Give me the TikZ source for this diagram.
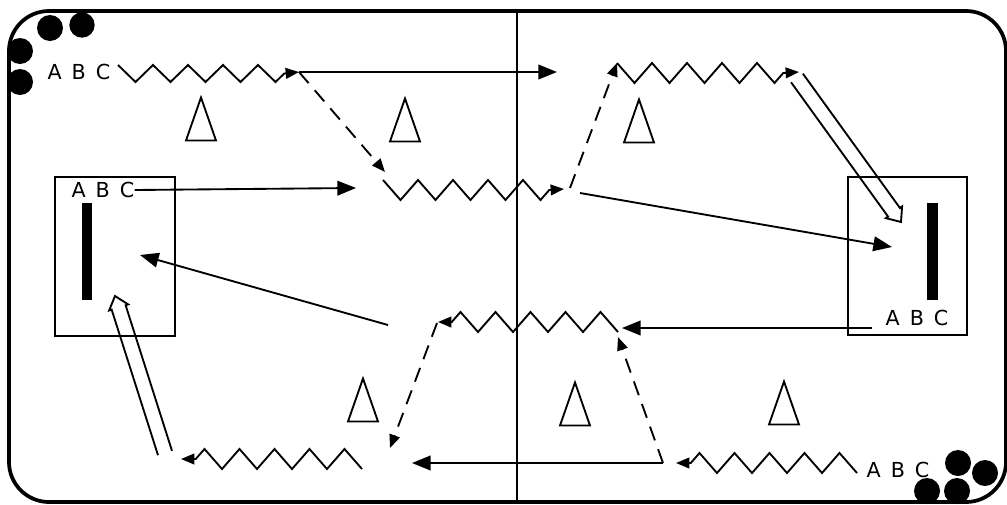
\documentclass[tikz,border=0pt]{standalone}
\usepackage{fontspec}
\newfontfamily\abcfont{DejaVu Sans}
\usetikzlibrary{arrows.meta,calc}
\newcommand\abctext{A\hspace{7.5pt}B\hspace{7.5pt}C}
\newcommand\hollowarrow[2]{%
  \coordinate (hn) at ($(#2)!9pt!(#1)$);
  \draw[hollow] ($(#1)!5.5pt!90:(#2)$) -- ($(hn)!5.5pt!90:(#2)$) -- ($(hn)!7.5pt!90:(#2)$) -- (#2)
     -- ($(hn)!7.5pt!-90:(#2)$) -- ($(hn)!5.5pt!-90:(#2)$) -- ($(#1)!5.5pt!-90:(#2)$);
}
% zigzag dribble: start, end, half-step in x, first step in y
\newcommand\zig[4]{%
  \draw[zz] (#1) \foreach \i in {1,...,9}{ -- ++(#3,{ifthenelse(isodd(\i),#4,-(#4))}) }
    -- ++({(#3)/2},{-(#4)/2}) -- (#2);
}
\begin{document}
\begin{tikzpicture}[x=0.75pt,y=-0.75pt,
  line join=miter,
  border/.style={line width=2.8pt, rounded corners=30pt},
  midline/.style={line width=1.1pt},
  big/.style={line width=1.4pt, -{Triangle[length=14pt,width=11pt]}},
  dsh/.style={line width=1.4pt, dash pattern=on 11pt off 7pt, -{Triangle[length=10pt,width=8pt]}},
  zz/.style={line width=1.4pt, -{Triangle[length=10pt,width=8pt]}},
  hollow/.style={line width=1.4pt},
  abc/.style={font=\abcfont\fontsize{15.5pt}{16pt}\selectfont, inner sep=0pt},
  box/.style={draw, line width=1.5pt},
  bar/.style={fill=black, inner sep=0pt},
  dot/.style={fill=black},
  cone/.pic={\draw[line width=1.4pt] (-15,21.5) -- (0,-21.5) -- (15,21.5) -- cycle;}
]
\useasboundingbox (0,0) rectangle (1007,504);
% field
\draw[border] (9,11) rectangle (1006,502);
\coordinate (mtop) at (517,11);
\coordinate (mbot) at (517,502);
\draw[midline] (mtop) -- (mbot);
% balls
\fill[dot] (50,28) circle (9.75pt);
\fill[dot] (82,25) circle (9.5pt);
\fill[dot] (20,51) circle (9.75pt);
\fill[dot] (20,82) circle (9.75pt);
\fill[dot] (958,463) circle (9.75pt);
\fill[dot] (985,473) circle (9.75pt);
\fill[dot] (927,491) circle (9.75pt);
\fill[dot] (957,491) circle (9.75pt);
% cones
\pic at (201,119) {cone};
\pic at (405,120) {cone};
\pic at (639,121) {cone};
\pic at (363,400) {cone};
\pic at (575,404) {cone};
\pic at (784,403) {cone};
% boxes with bars
\node[box, minimum width=90pt, minimum height=119.25pt] (lbox) at (115,256.5) {};
\node[bar, minimum width=7.5pt, minimum height=72.75pt] (lbar) at (87,251.5) {};
\node[box, minimum width=89.25pt, minimum height=118.5pt] (rbox) at (907.5,256) {};
\node[bar, minimum width=8.25pt, minimum height=72.75pt] (rbar) at (932.5,251.5) {};
% texts
\node[abc] (t1) at (79,72) {\abctext};
\node[abc] (t2) at (103,190) {\abctext};
\node[abc] (t3) at (917,318) {\abctext};
\node[abc] (t4) at (898,470) {\abctext};
% coordinates
\coordinate (z1s) at (118,65);  \coordinate (z1e) at (299,72);
\coordinate (a1e) at (557,72);
\coordinate (d1e) at (385,172);
\coordinate (a2e) at (356,188);
\coordinate (z2s) at (383,180); \coordinate (z2e) at (564,189);
\coordinate (d2s) at (570,188); \coordinate (d2e) at (617,63);
\coordinate (z3s) at (617,63);  \coordinate (z3e) at (799,72);
\coordinate (h1s) at (797,78);  \coordinate (h1e) at (901,222);
\coordinate (a3s) at (580,193); \coordinate (a3e) at (892,247);
\coordinate (a4s) at (872,328); \coordinate (a4e) at (622,328);
\coordinate (z4s) at (618,332); \coordinate (z4e) at (438,322);
\coordinate (d3s) at (437,323); \coordinate (d3e) at (390,448);
\coordinate (d4s) at (663,463); \coordinate (d4e) at (618,337);
\coordinate (a5e) at (412,463);
\coordinate (z5s) at (857,473); \coordinate (z5e) at (676,463);
\coordinate (z6s) at (362,469); \coordinate (z6e) at (181,459);
\coordinate (h2s) at (165,453); \coordinate (h2e) at (115,296);
\coordinate (a6s) at (388,325); \coordinate (a6e) at (140,255);
% paths
\zig{z1s}{z1e}{17.5}{17}
\draw[big] (z1e) -- (a1e);
\draw[dsh] (z1e) -- (d1e);
\draw[big] (t2.east) -- (a2e);
\zig{z2s}{z2e}{17.5}{20}
\draw[dsh] (d2s) -- (d2e);
\zig{z3s}{z3e}{17.5}{20}
\hollowarrow{h1s}{h1e}
\draw[big] (a3s) -- (a3e);
\draw[big] (a4s) -- (a4e);
\zig{z4s}{z4e}{-17.5}{-20}
\draw[dsh] (d3s) -- (d3e);
\draw[dsh] (d4s) -- (d4e);
\draw[big] (d4s) -- (a5e);
\zig{z5s}{z5e}{-17.5}{-20}
\zig{z6s}{z6e}{-17.5}{-20}
\hollowarrow{h2s}{h2e}
\draw[big] (a6s) -- (a6e);
\end{tikzpicture}
\end{document}
